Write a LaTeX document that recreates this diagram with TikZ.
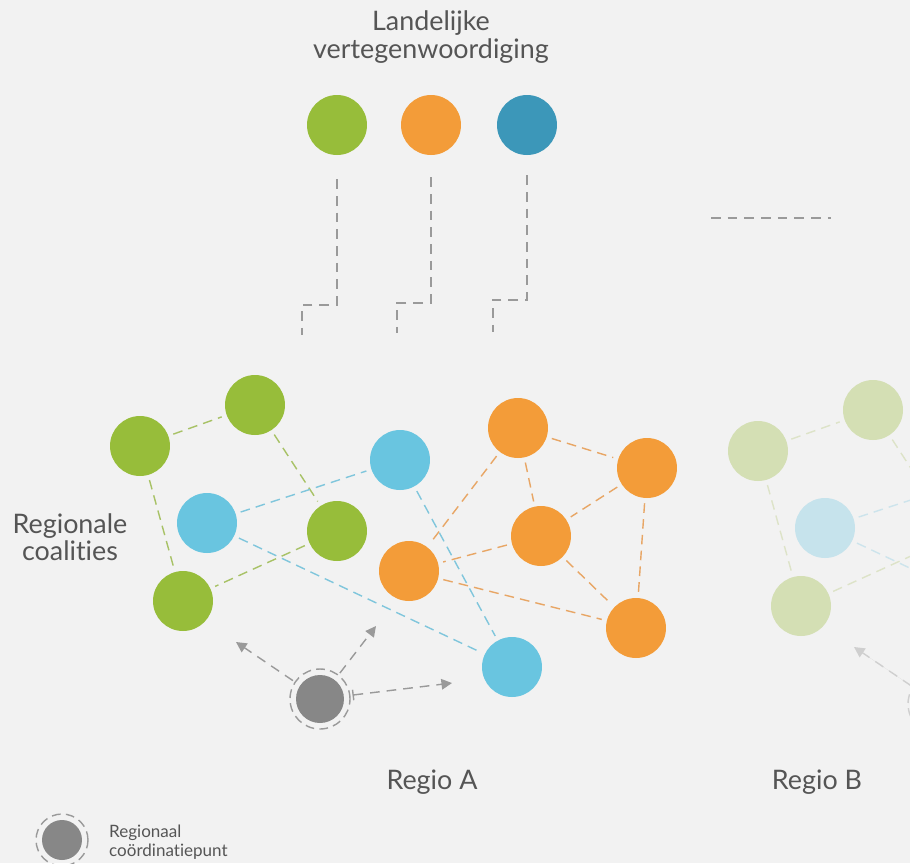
\documentclass[tikz,border=0pt]{standalone}
\usepackage{fontspec}
\setmainfont{Lato}[Ligatures={NoCommon}]
\usepackage{xcolor}
\usepackage{tikz}
\usetikzlibrary{arrows.meta}

\definecolor{paper}{HTML}{F2F2F2}
\definecolor{txtgray}{HTML}{555555}
\definecolor{cgreen}{HTML}{97BD3A}
\definecolor{corange}{HTML}{F39C39}
\definecolor{cblue}{HTML}{69C5E0}
\definecolor{cteal}{HTML}{3C97B9}
\definecolor{cgray}{HTML}{878787}
\definecolor{lgreen}{HTML}{A8C266}
\definecolor{lorange}{HTML}{E8A665}
\definecolor{lblue}{HTML}{80C6DC}
\definecolor{dgray}{HTML}{9A9A9A}
\definecolor{fgreen}{HTML}{D4DFB4}
\definecolor{fblue}{HTML}{C6E3EC}
\definecolor{fgreenl}{HTML}{DDE3C8}
\definecolor{fbluel}{HTML}{CDE4EC}
\definecolor{fgray}{HTML}{CFCFCF}

\tikzset{
  coal/.style={shape=circle, minimum size=1.2cm, inner sep=0pt},
  link/.style={dash pattern=on 5.5pt off 3.5pt, line width=0.8pt,
    shorten <=0.1cm, shorten >=0.1cm},
  feed/.style={draw=dgray, dash pattern=on 5.5pt off 4pt, line width=0.8pt},
  ring/.style={shape=circle, minimum size=1.2cm, inner sep=0pt,
    draw=dgray, dash pattern=on 5pt off 3pt, line width=0.8pt},
  push/.style={draw=dgray, dash pattern=on 5.5pt off 4pt, line width=0.8pt,
    -{Triangle[length=6pt,width=6pt]}, shorten <=0.04cm},
  lbl/.style={text=txtgray, font=\fontsize{15.3}{15.5}\selectfont, align=center}
}

\begin{document}
\begin{tikzpicture}[x=0.02cm, y=-0.02cm]
	\clip (0,0) rectangle (910,863);
	\fill [paper] (0,0) rectangle (910,863);

	% landelijke vertegenwoordiging
	\node [lbl] (title) at (431,37) {Landelijke\\vertegenwoordiging};
	\node [coal, fill=cgreen] (ng) at (337,125) {};
	\node [coal, fill=corange] (no) at (431,125) {};
	\node [coal, fill=cteal] (nb) at (527,125) {};
	\coordinate (ngstep) at (302,305);
	\coordinate (ngend) at (302,335);
	\coordinate (nostep) at (397,303);
	\coordinate (noend) at (397,333);
	\coordinate (nbstep) at (493,300);
	\coordinate (nbend) at (493,332);
	\draw [feed, shorten <=0.48cm] (ng) -- (ng |- ngstep) -- (ngstep) -- (ngend);
	\draw [feed, shorten <=0.44cm] (no) -- (no |- nostep) -- (nostep) -- (noend);
	\draw [feed, shorten <=0.40cm] (nb) -- (nb |- nbstep) -- (nbstep) -- (nbend);
	\coordinate (more1) at (711,218);
	\coordinate (more2) at (831,218);
	\draw [feed] (more1) -- (more2);

	% regio A
	\node [lbl] (coalitions) at (70,537) {Regionale\\coalities};
	\node [coal, fill=cgreen] (g1) at (140,446) {};
	\node [coal, fill=cgreen] (g2) at (255,405) {};
	\node [coal, fill=cgreen] (g3) at (337,531) {};
	\node [coal, fill=cgreen] (g4) at (183,601) {};
	\node [coal, fill=cblue] (b1) at (207,523) {};
	\node [coal, fill=cblue] (b2) at (400,460) {};
	\node [coal, fill=cblue] (b3) at (512,667) {};
	\node [coal, fill=corange] (o1) at (518,428) {};
	\node [coal, fill=corange] (o2) at (647,468) {};
	\node [coal, fill=corange] (o3) at (541,536) {};
	\node [coal, fill=corange] (o4) at (409,571) {};
	\node [coal, fill=corange] (o5) at (636,628) {};
	\draw [link, lgreen] (g1) to (g2);
	\draw [link, lgreen] (g1) to (g4);
	\draw [link, lgreen] (g2) to (g3);
	\draw [link, lgreen] (g3) to (g4);
	\draw [link, lblue] (b1) to (b2);
	\draw [link, lblue] (b1) to (b3);
	\draw [link, lblue] (b2) to (b3);
	\draw [link, lorange] (o1) to (o2);
	\draw [link, lorange] (o1) to (o3);
	\draw [link, lorange] (o1) to (o4);
	\draw [link, lorange] (o2) to (o3);
	\draw [link, lorange] (o2) to (o5);
	\draw [link, lorange] (o3) to (o4);
	\draw [link, lorange] (o3) to (o5);
	\draw [link, lorange] (o4) to (o5);

	\node [coal, fill=cgray, minimum size=0.96cm] (cp) at (320,699) {};
	\node [ring] (cpring) at (cp) {};
	\coordinate (cpnw) at (236,642);
	\coordinate (cpne) at (376,626);
	\coordinate (cpe) at (452,683);
	\draw [push] (cpring) to (cpnw);
	\draw [push] (cpring) to (cpne);
	\draw [push, {Bar[width=6pt]}-{Triangle[length=6pt,width=6pt]}] (cpring) to (cpe);
	\node [lbl] (regioA) at (432,782) {Regio A};

	% regio B
	\node [coal, fill=fgreen] (rg1) at (758,451) {};
	\node [coal, fill=fgreen] (rg2) at (873,410) {};
	\node [coal, fill=fgreen] (rg4) at (801,606) {};
	\node [coal, fill=fblue] (rb1) at (825,528) {};
	\coordinate (rg3) at (955,536);
	\coordinate (rb2) at (1018,465);
	\coordinate (rb3) at (1130,672);
	\draw [link, fgreenl] (rg1) to (rg2);
	\draw [link, fgreenl] (rg1) to (rg4);
	\draw [link, fgreenl] (rg2) to (rg3);
	\draw [link, fgreenl] (rg4) to (rg3);
	\draw [link, fbluel] (rb1) to (rb2);
	\draw [link, fbluel] (rb1) to (rb3);
	\node [ring, draw=fgray] (cpBring) at (938,704) {};
	\coordinate (cpBnw) at (854,647);
	\draw [push, draw=fgray, fill=fgray] (cpBring) to (cpBnw);
	\node [lbl] (regioB) at (817,782) {Regio B};

	% legenda
	\node [coal, fill=cgray, minimum size=0.8cm] (keycp) at (62,840) {};
	\node [ring, minimum size=1.04cm] (keyring) at (keycp) {};
	\node [text=txtgray, font=\fontsize{9.7}{10.5}\selectfont, align=left, anchor=west] (keytext) at (103,842) {Regionaal\\co\"ordinatiepunt};
\end{tikzpicture}
\end{document}
